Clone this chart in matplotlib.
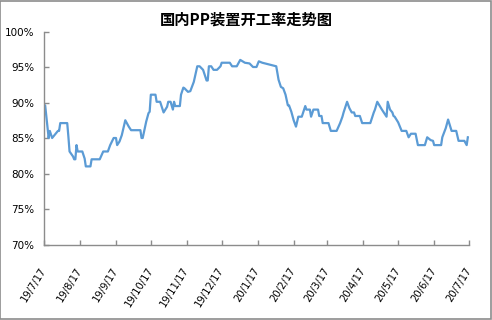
import matplotlib
matplotlib.use("Agg")

import pandas as pd
import matplotlib.pyplot as plt
import matplotlib.ticker as mticker
from matplotlib.patches import Rectangle

# ============================================================
# Data
# ============================================================

start_date = "2019-07-17"

day_offsets = [
    0, 1, 4, 5, 7, 10, 12, 13, 14, 20, 21, 22, 25, 26, 27, 28, 29, 33, 35,
    36, 40, 41, 48, 51, 55, 57, 60, 62, 63, 65, 67, 70, 73, 75, 83, 84, 85,
    88, 90, 91, 92, 96, 97, 100, 103, 106, 107, 109, 111, 112, 113, 117,
    118, 120, 121, 124, 126, 129, 132, 134, 137, 140, 141, 142, 144, 146,
    149, 152, 153, 160, 162, 166, 169, 173, 177, 180, 183, 185, 188, 200,
    202, 204, 206, 208, 210, 211, 213, 215, 217, 219, 222, 225, 226, 229,
    230, 232, 236, 237, 239, 240, 245, 247, 252, 255, 257, 258, 261, 263,
    265, 267, 268, 272, 274, 281, 284, 285, 287, 291, 295, 296, 298, 300,
    301, 302, 305, 308, 312, 314, 316, 320, 322, 328, 330, 333, 335, 336,
    342, 343, 346, 348, 351, 355, 357, 362, 364, 365,
]

rate = [
    89.6, 89.6, 85.0, 86.0, 85.0, 85.6, 86.0, 86.0, 87.1, 87.1, 85.2, 83.1,
    82.4, 82.0, 82.0, 84.0, 83.1, 83.1, 82.1, 81.0, 81.0, 82.0, 82.0, 83.1,
    83.1, 84.0, 85.0, 85.0, 84.0, 84.5, 85.4, 87.5, 86.6, 86.1, 86.1, 85.0,
    85.0, 87.3, 88.5, 88.7, 91.1, 91.1, 90.1, 90.1, 88.6, 89.4, 90.1, 90.1,
    89.0, 90.1, 89.5, 89.5, 91.1, 92.1, 92.0, 91.5, 91.6, 92.9, 95.1, 95.1,
    94.6, 93.1, 93.1, 95.1, 95.1, 94.6, 94.6, 95.1, 95.6, 95.6, 95.1, 95.1,
    96.0, 95.6, 95.5, 95.0, 95.0, 95.8, 95.6, 95.1, 93.2, 92.2, 92.0, 91.1,
    89.6, 89.6, 88.7, 87.5, 86.6, 88.0, 88.0, 89.5, 89.0, 89.0, 88.0, 89.0,
    89.0, 88.1, 88.1, 87.1, 87.1, 86.0, 86.0, 87.1, 88.0, 88.6, 90.1, 89.2,
    88.6, 88.6, 88.1, 88.1, 87.1, 87.1, 88.6, 89.0, 90.1, 89.0, 88.0, 90.1,
    89.0, 88.6, 88.1, 88.0, 87.2, 86.0, 86.0, 85.1, 85.6, 85.6, 84.0, 84.0,
    85.1, 84.7, 84.6, 84.0, 84.0, 85.1, 86.4, 87.6, 86.0, 86.0, 84.6, 84.6,
    84.0, 85.1,
]

y_ticks = [70, 75, 80, 85, 90, 95, 100]

title_text = "国内PP装置开工率走势图"

# ============================================================
# Figure
# ============================================================

start = pd.Timestamp(start_date)
dates = start + pd.to_timedelta(day_offsets, unit="D")
month_ticks = [start + pd.DateOffset(months=i) for i in range(13)]
tick_labels = [f"{d.year % 100}/{d.month}/{d.day}" for d in month_ticks]

fig = plt.figure(figsize=(4.92, 3.2), dpi=100)
fig.patches.append(
    Rectangle((0.001, 0.002), 0.996, 0.995, transform=fig.transFigure,
              fill=False, edgecolor="#8c8c8c", linewidth=1.2)
)

ax = fig.add_axes([44 / 492, 1 - 244.5 / 320, 425 / 492, 213 / 320])

ax.plot(dates, rate, color="#5b9bd5", linewidth=1.6)

ax.set_xlim(month_ticks[0], month_ticks[-1])
ax.set_ylim(70, 100)

ax.set_yticks(y_ticks)
ax.yaxis.set_major_formatter(mticker.FuncFormatter(lambda v, p: f"{int(v)}%"))

ax.set_xticks(month_ticks)
ax.set_xticklabels(tick_labels, rotation=58, ha="right", va="center",
                   rotation_mode="anchor")

for side in ("top", "right"):
    ax.spines[side].set_visible(False)
for side in ("left", "bottom"):
    ax.spines[side].set_color("#8c8c8c")
    ax.spines[side].set_linewidth(1.0)

ax.tick_params(axis="y", direction="in", length=3.5, width=1.0,
               color="#8c8c8c", labelsize=7.5, pad=7)
ax.tick_params(axis="x", direction="in", length=3.5, width=1.0,
               color="#8c8c8c", labelsize=7.2, pad=17)

fig.text(0.5, 1 - 20 / 320, title_text, ha="center", va="center",
         fontsize=11, fontweight="bold",
         family=["Noto Sans CJK SC", "DejaVu Sans"])

fig.savefig("out.png", dpi=100)
